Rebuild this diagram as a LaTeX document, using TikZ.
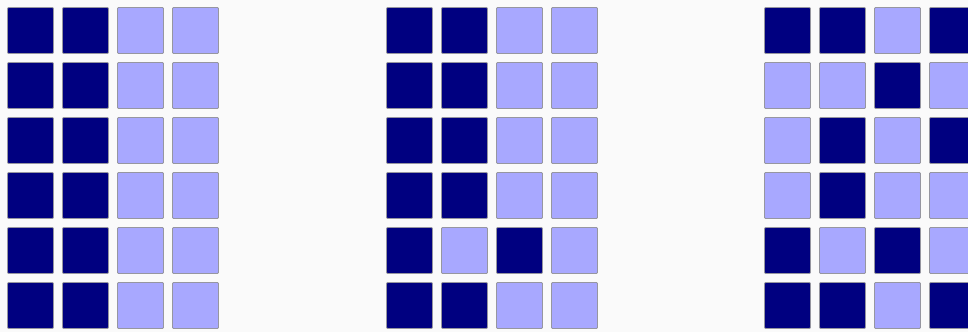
\documentclass[tikz,border=0pt]{standalone}
\definecolor{darkcell}{RGB}{0,0,128}
\definecolor{lightcell}{RGB}{168,168,255}
\definecolor{bgcol}{RGB}{250,250,250}
\definecolor{edgecol}{RGB}{150,150,160}
\tikzset{
  cell/.style={rectangle, inner sep=0pt, minimum size=46pt, draw=edgecol, line width=0.8pt, rounded corners=1pt},
  dk/.style={cell, fill=darkcell},
  lt/.style={cell, fill=lightcell}
}
\begin{document}
\begin{tikzpicture}[x=1pt,y=-1pt]
\fill[bgcol] (0,0) rectangle (968,332);
\useasboundingbox (0,0) rectangle (968,332);
% grid patterns: leading 1 is a guard digit; then 1 = dark, 0 = light
\foreach \g/\gx/\pat in {
  1/7/{11100,11100,11100,11100,11100,11100},
  2/386/{11100,11100,11100,11100,11010,11100},
  3/764/{11101,10010,10101,10100,11010,11101}} {
  \foreach \row [count=\r] in \pat {
    \foreach \c in {1,2,3,4} {
      \pgfmathsetmacro{\bit}{int(mod(floor(\row/10^(4-\c)),10))}
      \ifnum\bit=1
        \node[dk] (g\g-\r-\c) at ({\gx+23.5+(\c-1)*55},{7+23.5+(\r-1)*55}) {};
      \else
        \node[lt] (g\g-\r-\c) at ({\gx+23.5+(\c-1)*55},{7+23.5+(\r-1)*55}) {};
      \fi
    }
  }
}
\end{tikzpicture}
\end{document}
